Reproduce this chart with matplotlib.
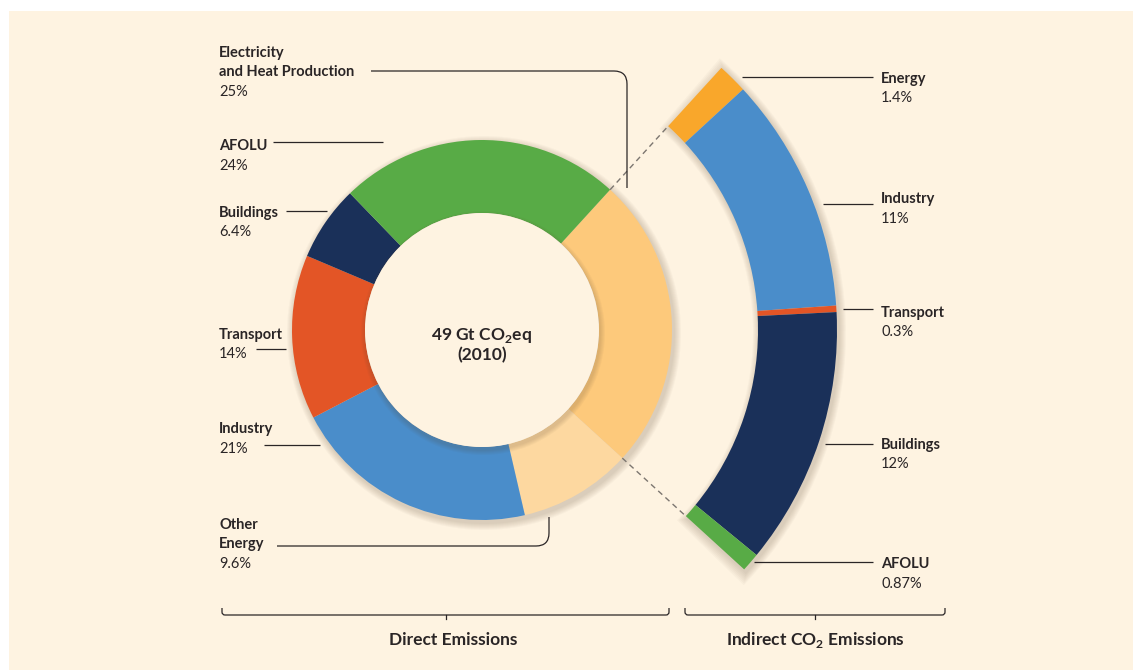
import numpy as np
import matplotlib
matplotlib.use("Agg")
import matplotlib.pyplot as plt
from matplotlib.patches import Wedge, Rectangle, PathPatch, Circle
from matplotlib.path import Path

# ---------------- data ----------------
direct_labels = ["Electricity\nand Heat Production", "Other\nEnergy", "Industry",
                 "Transport", "Buildings", "AFOLU"]
direct_values = [25, 9.6, 21, 14, 6.4, 24]
direct_colors = ["#FDC97B", "#FDD8A0", "#4A8DCA", "#E35526", "#1A3059", "#58AB46"]

indirect_labels = ["Energy", "Industry", "Transport", "Buildings", "AFOLU"]
indirect_values = [1.4, 11, 0.3, 12, 0.87]
indirect_colors = ["#F9A72B", "#4A8DCA", "#E35526", "#1A3059", "#58AB46"]

center_lines = ["49 Gt CO$_\\mathbf{2}$eq", "(2010)"]
group_titles = ["Direct Emissions", "Indirect CO$_\\mathbf{2}$ Emissions"]

# ---------------- style ----------------
FONT = ["Lato", "DejaVu Sans"]
plt.rcParams["font.family"] = FONT
plt.rcParams["mathtext.fontset"] = "custom"
plt.rcParams["mathtext.rm"] = "Lato"
plt.rcParams["mathtext.bf"] = "Lato:bold"

TXT = "#2A2526"
LINE = "#2A2526"
BG = "#FEF3E1"

W, H = 1133, 670
fig = plt.figure(figsize=(W / 100, H / 100), dpi=100, facecolor="white")
ax = fig.add_axes([0, 0, 1, 1])

def Y(y):
    return H - y

cx, cy = 482, Y(330)
R_out, R_in = 190, 117
A_out, A_in = 355, 276
start = 47.6
elec_span = 360 * direct_values[0] / sum(direct_values)
end = start - elec_span

ax.add_patch(Rectangle((9, 0), W - 9, H - 11, facecolor=BG, edgecolor="none", zorder=0))

# ---------------- shadows ----------------
SH = "#5a4630"
for k in range(1, 8):
    ax.add_patch(Wedge((cx + 2, cy - 3), R_out + k, 0, 360, width=R_out - R_in + 2 * k,
                       facecolor=SH, alpha=0.03, edgecolor="none", zorder=1))
    ax.add_patch(Wedge((cx + 2, cy - 3), A_out + k, end - k * 0.25, start + k * 0.25,
                       width=A_out - A_in + 2 * k, facecolor=SH, alpha=0.03,
                       edgecolor="none", zorder=1))

# ---------------- donut ----------------
ax.pie(direct_values, colors=direct_colors, radius=R_out, center=(cx, cy),
       startangle=start, counterclock=False,
       wedgeprops=dict(width=R_out - R_in, edgecolor="none", linewidth=0))

fractions = np.array(indirect_values) / sum(indirect_values) * direct_values[0] / sum(direct_values)
ax.pie(fractions, normalize=False, colors=indirect_colors, radius=A_out, center=(cx, cy),
       startangle=start, counterclock=False,
       wedgeprops=dict(width=A_out - A_in, edgecolor="none", linewidth=0))

# inner hole shadow (hole disc casts a soft shadow onto the ring)
for k in range(1, 6):
    ax.add_patch(Wedge((cx + 1, cy - 3), R_in + k, 0, 360, width=k + 3,
                       facecolor=SH, alpha=0.04, edgecolor="none", zorder=3))
ax.add_patch(Circle((cx, cy), R_in, facecolor=BG, edgecolor="none", zorder=4))

# dashed connectors
for ang in (start, end):
    t = np.deg2rad(ang)
    ax.plot([cx + R_out * np.cos(t), cx + A_in * np.cos(t)],
            [cy + R_out * np.sin(t), cy + A_in * np.sin(t)],
            color="#7C7670", lw=1.0, ls=(0, (4, 3)), zorder=5)

# ---------------- labels ----------------
FS = 10.5
STEP = 19.3

def label(x, y, name, value):
    lines = name.split("\n")
    for i, ln in enumerate(lines):
        ax.text(x, Y(y + i * STEP), ln, fontsize=FS, fontweight="bold", color=TXT,
                ha="left", va="baseline", zorder=6)
    ax.text(x, Y(y + len(lines) * STEP), f"{value:g}%", fontsize=FS, color=TXT,
            ha="left", va="baseline", zorder=6)

left_base = [57, 529, 433.5, 338.5, 217, 150.5]
for name, val, yy in zip(direct_labels, direct_values, left_base):
    label(219, yy, name, val)

right_base = [82.5, 203.5, 316.5, 449, 568.5]
for name, val, yy in zip(indirect_labels, indirect_values, right_base):
    label(881, yy, name, val)

def seg(x0, x1, y):
    ax.plot([x0, x1], [Y(y), Y(y)], color=LINE, lw=0.9, solid_capstyle="butt", zorder=6)

def path(pts, codes):
    p = Path([(x, Y(y)) for x, y in pts], codes)
    ax.add_patch(PathPatch(p, facecolor="none", edgecolor=LINE, lw=0.9, zorder=6))

M, L, C = Path.MOVETO, Path.LINETO, Path.CURVE3
# electricity leader with rounded corner
path([(371, 71), (614, 71), (627, 71), (627, 84), (627, 188)], [M, L, C, C, L])
# other energy leader
path([(277, 546), (536, 546), (549, 546), (549, 533), (549, 517)], [M, L, C, C, L])
seg(273, 383, 142)   # AFOLU
seg(286, 327, 211)   # Buildings
seg(256, 286, 349)   # Transport
seg(264, 320, 445)   # Industry
seg(742, 873, 77)    # Energy (indirect)
seg(823, 873, 204)   # Industry (indirect)
seg(843, 873, 309)   # Transport (indirect)
seg(825, 873, 444)   # Buildings (indirect)
seg(754, 873, 562)   # AFOLU (indirect)

# braces
def brace(x0, x1, xm, y=615):
    path([(x0, 608), (x0, 612), (x0, 615), (x0 + 3, 615), (x1 - 3, 615),
          (x1, 615), (x1, 612), (x1, 608)], [M, L, C, C, L, C, C, L])
    ax.plot([xm, xm], [Y(615), Y(619)], color=LINE, lw=0.9, zorder=6)

brace(222, 669, 446)
brace(685, 945, 815)

ax.text(453, Y(645), group_titles[0], fontsize=12.5, fontweight="bold", color=TXT,
        ha="center", va="baseline", zorder=6)
ax.text(815, Y(645), group_titles[1], fontsize=12.5, fontweight="bold", color=TXT,
        ha="center", va="baseline", zorder=6)

ax.text(cx, Y(340), center_lines[0], fontsize=12.5, fontweight="bold", color=TXT,
        ha="center", va="baseline", zorder=6)
ax.text(cx, Y(360), center_lines[1], fontsize=12.5, fontweight="bold", color=TXT,
        ha="center", va="baseline", zorder=6)

ax.set_xlim(0, W)
ax.set_ylim(0, H)
ax.set_aspect("equal")
ax.axis("off")
fig.savefig("out.png", dpi=100, facecolor="white")
